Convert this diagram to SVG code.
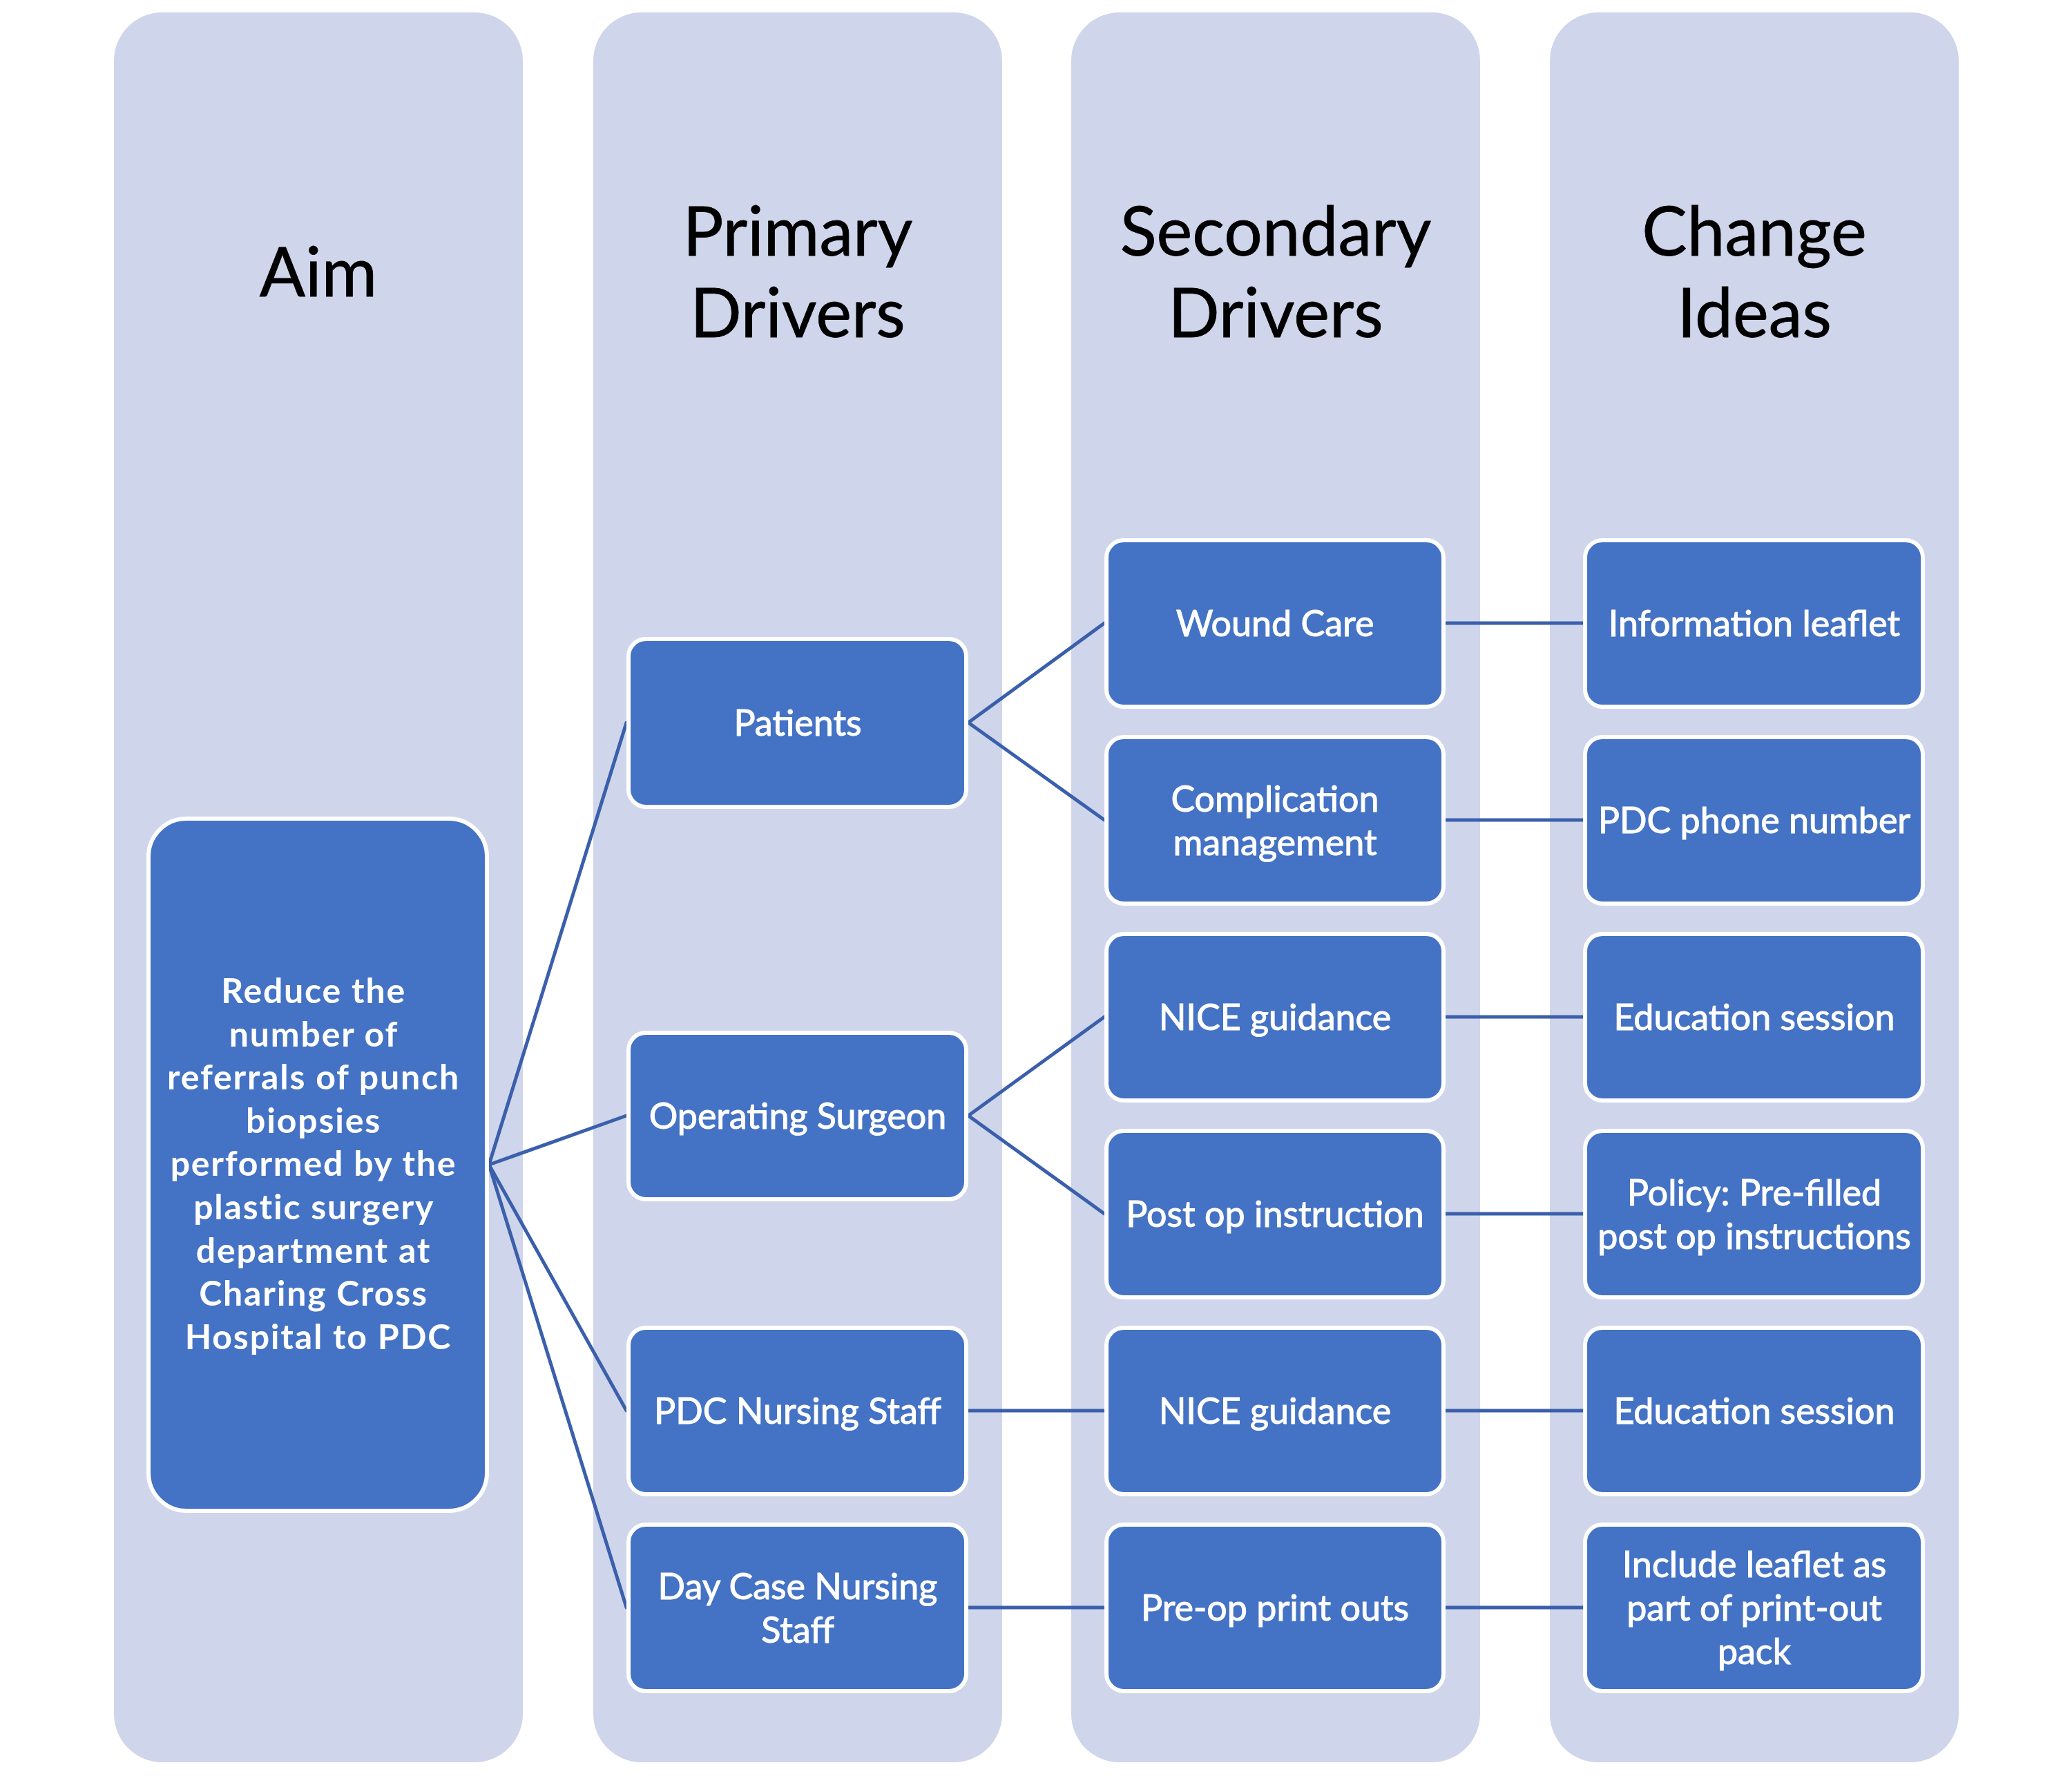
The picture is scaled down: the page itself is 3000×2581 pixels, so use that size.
<svg xmlns="http://www.w3.org/2000/svg" width="3000" height="2581" viewBox="0 0 3000 2581">
<style>
.col{fill:#CFD5EA}
.box{fill:#4472C4;stroke:#FFFFFF;stroke-width:6}
.title{font-family:Lato,"Open Sans","Liberation Sans",sans-serif;font-size:98px;fill:#000000;stroke:#000000;stroke-width:0.8;text-anchor:middle}
.lbl{font-family:Lato,"Open Sans","Liberation Sans",sans-serif;font-size:52px;fill:#FFFFFF;stroke:#FFFFFF;stroke-width:1;text-anchor:middle}
.aim{font-family:Lato,"Open Sans","Liberation Sans",sans-serif;font-size:50px;font-weight:bold;letter-spacing:1.8px;fill:#FFFFFF;text-anchor:middle}
.con{stroke:#3A5FAB;stroke-width:5;fill:none;stroke-linecap:round}
</style>
<rect width="3000" height="2581" fill="#FFFFFF"/>
<g id="columns">
<rect class="col" x="165" y="18" width="592" height="2533" rx="70"/>
<rect class="col" x="859" y="18" width="592" height="2533" rx="70"/>
<rect class="col" x="1551" y="18" width="592" height="2533" rx="70"/>
<rect class="col" x="2244" y="18" width="592" height="2533" rx="70"/>
</g>
<g id="titles">
<text class="title" x="461" y="429">Aim</text>
<text class="title" x="1155" y="370">Primary</text>
<text class="title" x="1155" y="488">Drivers</text>
<text class="title" x="1847" y="370">Secondary</text>
<text class="title" x="1847" y="488">Drivers</text>
<text class="title" x="2540" y="370">Change</text>
<text class="title" x="2540" y="488">Ideas</text>
</g>
<g id="connectors">
<line class="con" x1="708" y1="1686" x2="907" y2="1046"/>
<line class="con" x1="708" y1="1686" x2="907" y2="1615"/>
<line class="con" x1="708" y1="1686" x2="907" y2="2042"/>
<line class="con" x1="708" y1="1686" x2="907" y2="2327"/>
<line class="con" x1="1402" y1="1046" x2="1599" y2="902"/>
<line class="con" x1="1402" y1="1046" x2="1599" y2="1187"/>
<line class="con" x1="1402" y1="1615" x2="1599" y2="1472"/>
<line class="con" x1="1402" y1="1615" x2="1599" y2="1757"/>
<line class="con" x1="1402" y1="2042" x2="1599" y2="2042"/>
<line class="con" x1="1402" y1="2327" x2="1599" y2="2327"/>
<line class="con" x1="2093" y1="902" x2="2292" y2="902"/>
<line class="con" x1="2093" y1="1187" x2="2292" y2="1187"/>
<line class="con" x1="2093" y1="1472" x2="2292" y2="1472"/>
<line class="con" x1="2093" y1="1757" x2="2292" y2="1757"/>
<line class="con" x1="2093" y1="2042" x2="2292" y2="2042"/>
<line class="con" x1="2093" y1="2327" x2="2292" y2="2327"/>
</g>
<g id="aim">
<rect class="box" x="215" y="1185" width="490" height="1002" rx="55"/>
<text class="aim" x="461">
<tspan x="461" y="1452">Reduce the</tspan>
<tspan x="461" y="1514.6">number of</tspan>
<tspan x="461" y="1577.2">referrals of punch</tspan>
<tspan x="461" y="1639.8">biopsies</tspan>
<tspan x="461" y="1702.4">performed by the</tspan>
<tspan x="461" y="1765">plastic surgery</tspan>
<tspan x="461" y="1827.6">department at</tspan>
<tspan x="461" y="1890.2">Charing Cross</tspan>
<tspan x="461" y="1952.8">Hospital to PDC</tspan>
</text>
</g>
<g id="patients">
<rect class="box" x="910" y="925" width="489" height="243" rx="25"/>
<text class="lbl" x="1155" y="1065">Patients</text>
</g>
<g id="operating-surgeon">
<rect class="box" x="910" y="1495" width="489" height="241" rx="25"/>
<text class="lbl" x="1155" y="1634">Operating Surgeon</text>
</g>
<g id="pdc-nursing-staff">
<rect class="box" x="910" y="1922" width="489" height="241" rx="25"/>
<text class="lbl" x="1155" y="2061">PDC Nursing Staff</text>
</g>
<g id="day-case-nursing-staff">
<rect class="box" x="910" y="2207" width="489" height="241" rx="25"/>
<text class="lbl" x="1155"><tspan x="1155" y="2315">Day Case Nursing</tspan><tspan x="1155" y="2378">Staff</tspan></text>
</g>
<g id="wound-care">
<rect class="box" x="1602" y="782" width="488" height="241" rx="25"/>
<text class="lbl" x="1846" y="921">Wound Care</text>
</g>
<g id="complication-management">
<rect class="box" x="1602" y="1067" width="488" height="241" rx="25"/>
<text class="lbl" x="1846"><tspan x="1846" y="1175">Complication</tspan><tspan x="1846" y="1238">management</tspan></text>
</g>
<g id="nice-guidance-1">
<rect class="box" x="1602" y="1352" width="488" height="241" rx="25"/>
<text class="lbl" x="1846" y="1491">NICE guidance</text>
</g>
<g id="post-op-instruction">
<rect class="box" x="1602" y="1637" width="488" height="241" rx="25"/>
<text class="lbl" x="1846" y="1776">Post op instruction</text>
</g>
<g id="nice-guidance-2">
<rect class="box" x="1602" y="1922" width="488" height="241" rx="25"/>
<text class="lbl" x="1846" y="2061">NICE guidance</text>
</g>
<g id="pre-op-print-outs">
<rect class="box" x="1602" y="2207" width="488" height="241" rx="25"/>
<text class="lbl" x="1846" y="2346">Pre-op print outs</text>
</g>
<g id="information-leaflet">
<rect class="box" x="2295" y="782" width="489" height="241" rx="25"/>
<text class="lbl" x="2540" y="921">Information leaflet</text>
</g>
<g id="pdc-phone-number">
<rect class="box" x="2295" y="1067" width="489" height="241" rx="25"/>
<text class="lbl" x="2540" y="1206">PDC phone number</text>
</g>
<g id="education-session-1">
<rect class="box" x="2295" y="1352" width="489" height="241" rx="25"/>
<text class="lbl" x="2540" y="1491">Education session</text>
</g>
<g id="policy-pre-filled">
<rect class="box" x="2295" y="1637" width="489" height="241" rx="25"/>
<text class="lbl" x="2540"><tspan x="2540" y="1745">Policy: Pre-filled</tspan><tspan x="2540" y="1808">post op instructions</tspan></text>
</g>
<g id="education-session-2">
<rect class="box" x="2295" y="1922" width="489" height="241" rx="25"/>
<text class="lbl" x="2540" y="2061">Education session</text>
</g>
<g id="include-leaflet">
<rect class="box" x="2295" y="2207" width="489" height="241" rx="25"/>
<text class="lbl" x="2540"><tspan x="2540" y="2283">Include leaflet as</tspan><tspan x="2540" y="2346">part of print-out</tspan><tspan x="2540" y="2409">pack</tspan></text>
</g>
</svg>
